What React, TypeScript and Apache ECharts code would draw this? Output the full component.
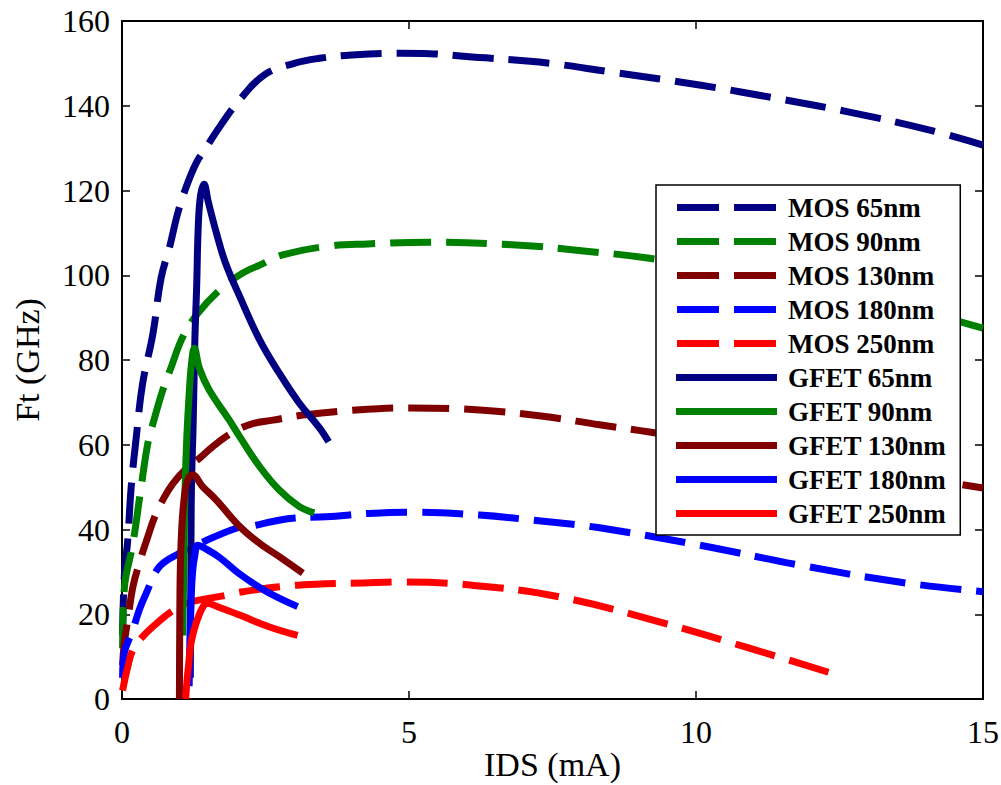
import React, { useEffect, useRef } from "react";
import * as echarts from "echarts";

// ---- Data (IDS in mA, Ft in GHz) ----
const seriesNames = [
  "MOS 65nm",
  "MOS 90nm",
  "MOS 130nm",
  "MOS 180nm",
  "MOS 250nm",
  "GFET 65nm",
  "GFET 90nm",
  "GFET 130nm",
  "GFET 180nm",
  "GFET 250nm",
];
const seriesColors = ["#000080", "#008000", "#800000", "#0000FF", "#FF0000"];

const mos65 = [
  [0.01, 15], [0.04, 29], [0.1, 37.5], [0.16, 50], [0.25, 62], [0.36, 74.5], [0.54, 86.3],
  [0.68, 99.3], [0.83, 106.7], [0.97, 114.6], [1.12, 120.9], [1.29, 126.4], [1.44, 129.6],
  [1.7, 135], [2.05, 141.4], [2.48, 147.3], [3.0, 150], [3.44, 151.2], [4.0, 152],
  [4.84, 152.4], [5.36, 152.3], [6.0, 151.6], [7.27, 150.3], [8.5, 148], [10.06, 144.9],
  [11.5, 141.5], [12.67, 138.5], [14, 134.5], [15, 130.7],
];
const mos90 = [
  [0.01, 12], [0.04, 26], [0.19, 36.7], [0.33, 49.7], [0.45, 60.3], [0.54, 65], [0.71, 72.9],
  [0.86, 78.4], [1.06, 85.5], [1.32, 91], [1.7, 96.5], [2.1, 100.5], [2.4, 102.4],
  [2.8, 104.8], [3.61, 106.9], [4.28, 107.4], [5.36, 107.8], [6.93, 107.1], [8.0, 105.8],
  [9.19, 104], [10.5, 101], [12, 97.5], [13.5, 93], [15, 87.5],
];
const mos130 = [
  [0.01, 8], [0.04, 13.2], [0.1, 18.6], [0.19, 26.5], [0.3, 32], [0.45, 38.3], [0.57, 43],
  [0.74, 47.7], [0.89, 50.9], [1.12, 54.4], [1.35, 56.8], [1.61, 59.9], [1.94, 63],
  [2.28, 65], [2.63, 65.8], [3.15, 67], [4.08, 68.2], [5.01, 68.7], [6.23, 68.2],
  [7.3, 66.8], [8.32, 64.7], [9.19, 63], [10.5, 60], [12, 56.5], [13.5, 53], [15, 49.8],
];
const mos180 = [
  [0.01, 5], [0.04, 10.8], [0.19, 16.3], [0.3, 21], [0.42, 24.9], [0.65, 31.2], [1.0, 34.4],
  [1.35, 36.7], [1.99, 40.3], [2.22, 40.7], [2.92, 42.6], [3.56, 43], [4.31, 43.8],
  [5.01, 44.1], [6.23, 43.4], [7.3, 42], [8.32, 40.4], [10.06, 36.3], [11.8, 31.6],
  [13.54, 27.6], [15, 25.3],
];
const mos250 = [
  [0.01, 2], [0.1, 7.6], [0.19, 11.6], [0.36, 14.7], [0.6, 17.8], [0.86, 20.6], [1.12, 22.6],
  [1.82, 24.5], [2.1, 25.3], [2.74, 26.5], [3.38, 27.1], [4.2, 27.4], [4.84, 27.6],
  [6.06, 26.9], [7.62, 24.1], [9.36, 18.2], [10.93, 12], [12.5, 5.5],
];
const gfet65 = [
  [1.19, 5], [1.2, 30], [1.21, 50], [1.24, 65], [1.27, 85], [1.3, 97], [1.33, 112],
  [1.37, 119], [1.43, 121.5], [1.5, 117.5], [1.64, 110.2], [1.8, 103], [2.05, 95],
  [2.4, 84.7], [2.74, 76.9], [3.09, 69.8], [3.44, 64], [3.6, 60.7],
];
const gfet90 = [
  [1.06, 15], [1.08, 35], [1.1, 50], [1.13, 62], [1.17, 72], [1.21, 79], [1.26, 82.8],
  [1.35, 78], [1.52, 72.9], [1.87, 65.8], [2.05, 61.9], [2.4, 54.8], [2.74, 49.3],
  [3.09, 45.4], [3.35, 43.9],
];
const gfet130 = [
  [1.0, 0], [1.005, 15], [1.015, 30], [1.04, 40], [1.08, 47], [1.14, 51.5], [1.23, 52.9],
  [1.4, 50.2], [1.64, 47], [2.05, 40.7], [2.4, 36.7], [2.74, 33.6], [3.15, 29.7],
];
const gfet180 = [
  [1.17, 3], [1.18, 12], [1.2, 22], [1.23, 30], [1.27, 34], [1.32, 36.3], [1.45, 35.5],
  [1.7, 33.4], [2.05, 29.5], [2.5, 25.5], [3.06, 21.8],
];
const gfet250 = [
  [1.11, 0], [1.13, 4], [1.16, 8], [1.2, 13], [1.26, 16.5], [1.32, 19], [1.4, 21.5],
  [1.48, 22.6], [1.7, 21.6], [2.05, 19.8], [2.57, 17], [3.06, 15],
];

const seriesData = [mos65, mos90, mos130, mos180, mos250, gfet65, gfet90, gfet130, gfet180, gfet250];

const xMin = 0;
const xMax = 15;
const xInterval = 5;
const yMin = 0;
const yMax = 160;
const yInterval = 20;
const xName = "IDS (mA)";
const yName = "Ft (GHz)";

const FONT = "'Liberation Serif', 'Times New Roman', serif";
const DASH_ICON = "path://M0,0H42V7H0Z M57,0H99V7H57Z";

export default function App() {
  const ref = useRef<HTMLDivElement>(null);

  useEffect(() => {
    const chart = echarts.init(ref.current as HTMLDivElement, null, { renderer: "svg" });

    const frameLine = { show: true, onZero: false, lineStyle: { color: "#000", width: 2 } };
    const tick = { show: true, inside: true, length: 8, lineStyle: { color: "#000", width: 1.5 } };
    const labelStyle = { color: "#000", fontFamily: FONT, fontSize: 32 };
    const nameStyle = { color: "#000", fontFamily: FONT, fontSize: 34 };

    const series = seriesNames.map((name, i) => ({
      name,
      type: "line",
      data: seriesData[i],
      symbol: "none",
      smooth: 0.4,
      xAxisIndex: 0,
      yAxisIndex: 0,
      lineStyle: {
        color: seriesColors[i % 5],
        width: 7,
        type: i < 5 ? [41, 15] : "solid",
        cap: "butt",
        join: "round",
      },
      itemStyle: { color: seriesColors[i % 5] },
      emphasis: { disabled: true },
    }));

    chart.setOption({
      animation: false,
      backgroundColor: "#fff",
      grid: {
        left: 122,
        top: 21,
        width: 861,
        height: 678,
        containLabel: false,
        outerBoundsMode: "none",
      },
      xAxis: [
        {
          type: "value",
          min: xMin,
          max: xMax,
          interval: xInterval,
          position: "bottom",
          axisLine: frameLine,
          axisTick: tick,
          splitLine: { show: false },
          axisLabel: { ...labelStyle, margin: 17 },
          name: xName,
          nameLocation: "middle",
          nameGap: 48,
          nameMoveOverlap: false,
          nameTextStyle: { ...nameStyle },
        },
        {
          type: "value",
          min: xMin,
          max: xMax,
          interval: xInterval,
          position: "top",
          axisLine: frameLine,
          axisTick: tick,
          splitLine: { show: false },
          axisLabel: { show: false },
        },
      ],
      yAxis: [
        {
          type: "value",
          min: yMin,
          max: yMax,
          interval: yInterval,
          position: "left",
          axisLine: frameLine,
          axisTick: tick,
          splitLine: { show: false },
          axisLabel: { ...labelStyle, margin: 12 },
          name: yName,
          nameLocation: "middle",
          nameGap: 78,
          nameMoveOverlap: false,
          nameTextStyle: { ...nameStyle },
        },
        {
          type: "value",
          min: yMin,
          max: yMax,
          interval: yInterval,
          position: "right",
          axisLine: frameLine,
          axisTick: tick,
          splitLine: { show: false },
          axisLabel: { show: false },
        },
      ],
      legend: {
        orient: "vertical",
        left: 656,
        top: 185,
        padding: [9, 14, 8, 20],
        itemGap: 7,
        itemWidth: 101,
        itemHeight: 7,
        backgroundColor: "#fff",
        borderColor: "#000",
        borderWidth: 1.5,
        selectedMode: false,
        itemStyle: { borderWidth: 0 },
        textStyle: {
          color: "#000",
          fontFamily: FONT,
          fontWeight: "bold",
          fontSize: 27,
          padding: [0, 0, 0, 6],
        },
        data: seriesNames.map((name, i) => ({ name, icon: i < 5 ? DASH_ICON : "rect" })),
      },
      series,
    });

    return () => chart.dispose();
  }, []);

  return (
    <div
      ref={ref}
      style={{ position: "fixed", left: 0, top: 0, width: 1001, height: 785, background: "#fff" }}
    />
  );
}
